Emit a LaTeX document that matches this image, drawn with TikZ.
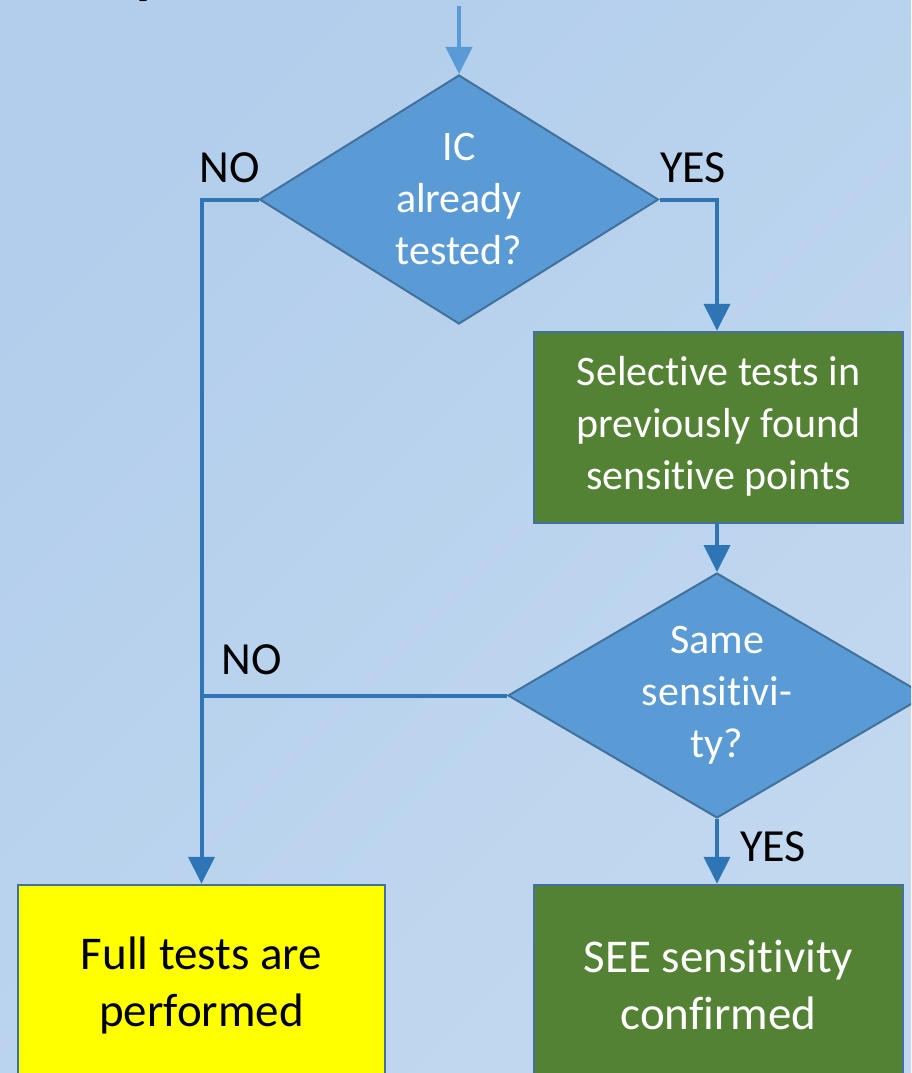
\documentclass[tikz,border=0pt]{standalone}
\usepackage{fontspec}
\setmainfont{Carlito}[RawFeature={-liga;-clig;-dlig;-calt}]
\usetikzlibrary{shapes.geometric, arrows.meta}

\definecolor{bgLight}{RGB}{178,206,236}
\definecolor{bgMid}{RGB}{150,190,228}
\definecolor{bgEnd}{RGB}{194,216,239}
\definecolor{decFill}{RGB}{91,155,213}
\definecolor{decEdge}{RGB}{65,113,156}
\definecolor{flowBlue}{RGB}{46,117,182}
\definecolor{inBlue}{RGB}{91,155,213}
\definecolor{okGreen}{RGB}{84,130,53}
\definecolor{fullYellow}{RGB}{255,255,0}

\begin{document}
\begin{tikzpicture}[x=1pt, y=-1pt,
  decision/.style={diamond, draw=decEdge, fill=decFill, line width=2pt,
    inner sep=0pt, align=center, text=white,
    font=\fontsize{42}{52}\selectfont},
  procbox/.style={rectangle, draw=decEdge, line width=2.5pt, inner sep=0pt,
    align=center},
  flow/.style={draw=flowBlue, line width=4pt,
    -{Triangle[length=27pt, width=26pt]}},
  joinline/.style={draw=flowBlue, line width=4pt},
  answer/.style={font=\fontsize{46}{50}\selectfont, text=black, inner sep=0pt}
]
% frame and background
\useasboundingbox (0,0) rectangle (911,1073);
\begin{scope}
\clip (0,0) rectangle (911,1073);
\shade[top color=bgLight, middle color=bgMid, bottom color=bgEnd, shading angle=45]
  (0,0) rectangle (911,1073);

% tail of the heading above the chart
\node[font=\fontsize{64}{64}\selectfont\bfseries\itshape, anchor=base west, inner sep=0pt]
  (heading) at (136,-8) {y};

% decisions
\node[decision, minimum width=399pt, minimum height=249pt, aspect=1.6]
  (tested) at (459,199.5) {IC\\already\\tested?};
\node[decision, minimum width=418pt, minimum height=245pt, aspect=1.7]
  (same) at (717,695.5) {Same\\sensitivi-\\ty?};

% process boxes
\node[procbox, fill=okGreen, text=white, minimum width=369pt, minimum height=191pt,
  font=\fontsize{42}{52}\selectfont]
  (selective) at (718.5,427.5)
  {\raisebox{-5pt}{\begin{tabular}{@{}c@{}}Selective tests in\\previously found\\sensitive points\end{tabular}}};
\node[procbox, fill=fullYellow, text=black, minimum width=367pt, minimum height=200pt,
  font=\fontsize{47}{57}\selectfont]
  (full) at (201.5,985) {Full tests are\\performed};
\node[procbox, fill=okGreen, text=white, minimum width=369pt, minimum height=200pt,
  font=\fontsize{47}{57}\selectfont]
  (confirmed) at (718.5,985) {SEE sensitivity\\confirmed};

% connectors
\coordinate (entry) at (459,6);
\draw[flow, draw=inBlue] (entry) -- (tested.north);
\draw[flow] (tested.west) -| (full.north);
\draw[flow] (tested.east) -| (same.north |- selective.north);
\draw[flow] (same.north |- selective.south) -- (same.north);
\draw[flow] (same.south) -- (same.south |- confirmed.north);
\coordinate (merge) at (same.west -| full.north);
\draw[joinline] (same.west) -- (merge);

% branch labels
\node[answer] (no1) at (230,168) {NO};
\node[answer] (yes1) at (693,168) {YES};
\node[answer] (no2) at (252,660) {NO};
\node[answer] (yes2) at (773,847) {YES};
\end{scope}
\end{tikzpicture}
\end{document}
